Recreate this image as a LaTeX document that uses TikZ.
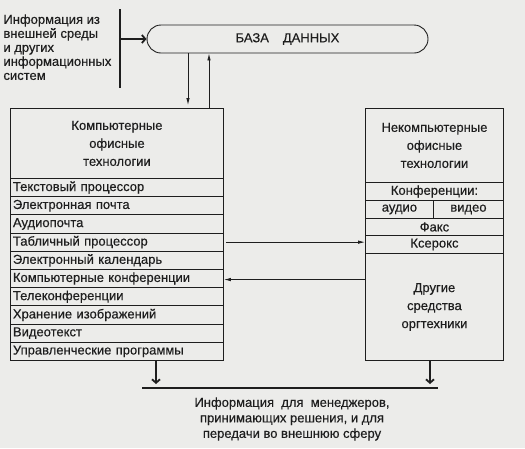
\documentclass[tikz,border=0pt]{standalone}
\usepackage{fontspec}
\setmainfont{Liberation Sans}[BoldFont=Liberation Sans, BoldFeatures={FakeBold=0.35}]
\usetikzlibrary{arrows.meta,positioning,calc,shapes.misc}
\definecolor{ink}{RGB}{30,30,30}
\definecolor{paper}{RGB}{236,236,234}
\tikzset{
  every picture/.style={color=ink, line width=0.9pt, font=\fontsize{13}{18}\selectfont\bfseries},
  cell/.style={draw=ink, inner sep=0pt, anchor=north west},
  row/.style={cell, minimum width=213pt, minimum height=18.2pt, text width=208pt, align=left, inner xsep=2.5pt},
  rrow/.style={cell, minimum width=138pt, align=center},
  head/.style={cell, align=center},
  flow/.style={-{Latex[length=7pt,width=3.5pt]}, line width=0.8pt},
  barb/.style={-{Straight Barb[length=3.5pt,width=8pt,line width=1.8pt]}, line width=1.4pt},
  note/.style={align=left, font=\fontsize{13}{14}\selectfont\bfseries, inner sep=0pt},
}
\begin{document}
\begin{tikzpicture}[x=1pt, y=-1pt]
  \useasboundingbox[fill=paper] (0,0) rectangle (525,448);
  % outside world feeding the data base
  \node[note, anchor=north west] (ext) at (3,14) {Информация из\\внешней среды\\и других\\информационных\\систем};
  \coordinate (bartop) at (120,9);
  \coordinate (barbot) at (120,88);
  \draw[line width=2.2pt] (bartop) -- (barbot);
  \node[draw=ink, rounded rectangle, minimum width=281pt, minimum height=28pt, inner sep=0pt] (db) at (287.5,39) {БАЗА\hspace{14pt}ДАННЫХ\hspace{20pt}};
  \draw[barb] (bartop |- db.west) -- (db.west);
  % computer technologies
  \node[head, minimum width=213pt, minimum height=70pt] (lhead) at (10,108) {Компьютерные\\офисные\\технологии};
  \foreach \i/\t in {1/Текстовый процессор,2/Электронная почта,3/Аудиопочта,4/Табличный процессор,5/Электронный календарь,6/Компьютерные конференции,7/Телеконференции,8/Хранение изображений,9/Видеотекст,10/Управленческие программы} { \node[row] (r\i) at (10,{178+(\i-1)*18.2}) {\t}; }
  % other technologies
  \node[head, minimum width=138pt, minimum height=74pt] (rhead) at (365,108) {Некомпьютерные\\офисные\\технологии};
  \node[rrow, minimum height=18pt] (conf) at (365,182) {Конференции:};
  \node[cell, minimum width=68pt, minimum height=18pt] (aud) at (365,200) {аудио};
  \node[cell, minimum width=70pt, minimum height=18pt] (vid) at (433,200) {видео};
  \node[rrow, minimum height=17pt] (fax) at (365,218) {Факс};
  \node[rrow, minimum height=18pt] (xer) at (365,235) {Ксерокс};
  \node[rrow, minimum height=107pt] (oth) at (365,253) {Другие\\средства\\оргтехники};
  % links with the data base
  \coordinate (dnx) at (188,0);
  \coordinate (upx) at (209,0);
  \draw[flow] (db.south -| dnx) -- ([yshift=3pt]lhead.north -| dnx);
  \draw[flow] (lhead.north -| upx) -- (db.south -| upx);
  % links between the two boxes
  \draw[flow] ([xshift=2pt]r4.east) -- (r4.east -| xer.west);
  \draw[flow] ([yshift=-1pt]r6.east -| oth.west) -- ([yshift=-1pt]r6.east);
  % output to managers
  \coordinate (outl) at (142,388);
  \coordinate (outr) at (438,388);
  \coordinate (lx) at (156,0);
  \coordinate (rx) at (430,0);
  \draw[line width=2.2pt] (outl) -- (outr);
  \draw[barb] (r10.south -| lx) -- ([yshift=4pt]outl -| lx);
  \draw[barb] (oth.south -| rx) -- ([yshift=4pt]outl -| rx);
  \node[align=center, font=\fontsize{13}{15.5}\selectfont\bfseries, inner sep=0pt] (out) at (292,419) {Информация\ \ для\ \ менеджеров,\\принимающих решения, и для\\передачи во внешнюю сферу};
\end{tikzpicture}
\end{document}
